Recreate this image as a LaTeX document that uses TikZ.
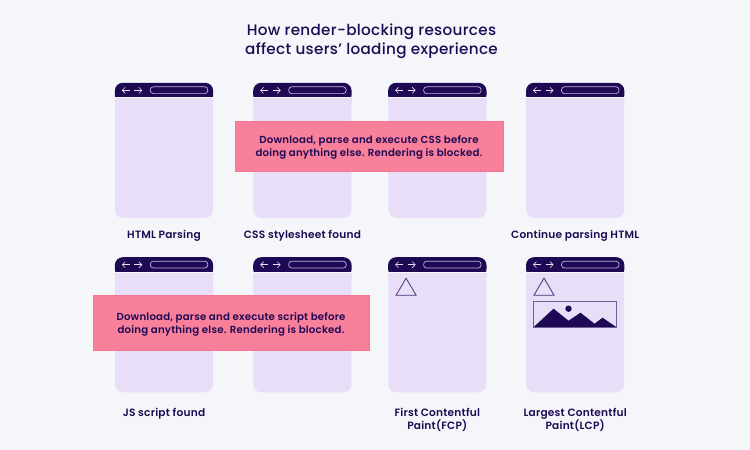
\documentclass[tikz,border=0pt]{standalone}
\usepackage{fontspec}
\setmainfont{Poppins}[BoldFont={Poppins Medium},LetterSpace=2]
\newfontfamily\labelfont{Poppins SemiBold}[LetterSpace=2]
\usepackage{xcolor}
\usetikzlibrary{arrows.meta,positioning}
\definecolor{pagebg}{HTML}{F5F6F9}
\definecolor{lilac}{HTML}{E8DEF8}
\definecolor{ink}{HTML}{1E0A54}
\definecolor{rose}{HTML}{F9809A}
\definecolor{rosedge}{HTML}{F87592}

\begin{document}
\begin{tikzpicture}[
node distance=40pt,
phone/.style={fill=lilac,rounded corners=8pt,minimum width=98pt,minimum height=135pt,inner sep=0pt},
caption/.style={text=ink,font=\fontsize{10.6}{13}\selectfont\labelfont,align=center,inner sep=0pt},
banner/.style={fill=rose,draw=rosedge,text=ink,font=\fontsize{10.2}{13}\selectfont\labelfont,align=center,inner sep=0pt,text depth=0pt},
navarrow/.style={-{Straight Barb[length=3pt,width=6pt]},draw=lilac,line width=.6pt},
shapeline/.style={draw=ink!80!lilac,line width=.8pt}
]
\fill[pagebg] (0,0) rectangle (750pt,-450pt);
\useasboundingbox (0,0) rectangle (750pt,-450pt);

\node[text=ink,font=\fontsize{15.2}{19.5}\selectfont\bfseries,align=center,inner sep=0pt] (title) at (371.5pt,-41pt) {How render-blocking resources\\affect users' loading experience};

\node[phone] (htmlphone) at (164pt,-150.5pt) {};
\node[phone,right=of htmlphone] (cssphone) {};
\node[phone,right=36.5pt of cssphone] (waitphone) {};
\node[phone,right=39.5pt of waitphone] (contphone) {};

\node[phone,below=39pt of htmlphone] (jsphone) {};
\node[phone,right=of jsphone] (scriptphone) {};
\node[phone,right=36.5pt of scriptphone] (fcpphone) {};
\node[phone,right=39.5pt of fcpphone] (lcpphone) {};

% browser bar
\foreach \p in {htmlphone,cssphone,waitphone,contphone,jsphone,scriptphone,fcpphone,lcpphone}{
  \fill[ink,rounded corners=8pt] (\p.north west) -- (\p.north east) -- ([yshift=-20pt]\p.north east) -- ([yshift=-20pt]\p.north west) -- cycle;
  \fill[lilac] ([yshift=-14.5pt]\p.north west) rectangle ([yshift=-21pt]\p.north east);
  \fill[white!70!lilac] ([yshift=-14.5pt]\p.north west) rectangle ([yshift=-15.3pt]\p.north east);
  \draw[navarrow] ([shift={(15pt,-7.5pt)}]\p.north west) -- ([shift={(7pt,-7.5pt)}]\p.north west);
  \draw[navarrow] ([shift={(19.5pt,-7.5pt)}]\p.north west) -- ([shift={(27.5pt,-7.5pt)}]\p.north west);
  \draw[draw=lilac!80!ink,line width=.7pt,rounded corners=3pt] ([shift={(35.5pt,-4pt)}]\p.north west) rectangle ([shift={(93pt,-10.8pt)}]\p.north west);
}

% triangles
\draw[shapeline] ([shift={(8pt,-38pt)}]fcpphone.north west) -- ([shift={(18pt,-21pt)}]fcpphone.north west) -- ([shift={(28pt,-38pt)}]fcpphone.north west) -- cycle;
\draw[shapeline] ([shift={(8pt,-38pt)}]lcpphone.north west) -- ([shift={(18pt,-21pt)}]lcpphone.north west) -- ([shift={(28pt,-38pt)}]lcpphone.north west) -- cycle;

% picture placeholder
\coordinate (picnw) at ([shift={(7.5pt,-44.5pt)}]lcpphone.north west);
\fill[ink] ([yshift=-25.5pt]picnw) -- ([shift={(20pt,-7pt)}]picnw) -- ([shift={(35pt,-19pt)}]picnw) -- ([shift={(47pt,-11pt)}]picnw) -- ([shift={(61pt,-22pt)}]picnw) -- ([shift={(69pt,-16pt)}]picnw) -- ([shift={(83pt,-25.5pt)}]picnw) -- cycle;
\fill[ink] ([shift={(35pt,-7pt)}]picnw) circle (3.2pt);
\draw[draw=ink!60!lilac,line width=.8pt] (picnw) rectangle ([shift={(83pt,-25.5pt)}]picnw);

\node[banner,minimum width=268pt,minimum height=50pt] (cssbanner) at (369pt,-146pt) {Download, parse and execute CSS before\\doing anything else. Rendering is blocked.};
\node[banner,minimum width=276pt,minimum height=55pt] (jsbanner) at (231pt,-322.5pt) {Download, parse and execute script before\\doing anything else. Rendering is blocked.};

\node[caption,below=12pt of htmlphone] (htmlcap) {HTML Parsing};
\node[caption,below=12pt of cssphone] (csscap) {CSS stylesheet found};
\node[caption,below=12pt of contphone] (contcap) {Continue parsing HTML};
\node[caption,below=15pt of jsphone] (jscap) {JS script found};
\node[caption,below=15pt of fcpphone] (fcpcap) {First Contentful\\Paint(FCP)};
\node[caption,below=15pt of lcpphone] (lcpcap) {Largest Contentful\\Paint(LCP)};
\end{tikzpicture}
\end{document}
